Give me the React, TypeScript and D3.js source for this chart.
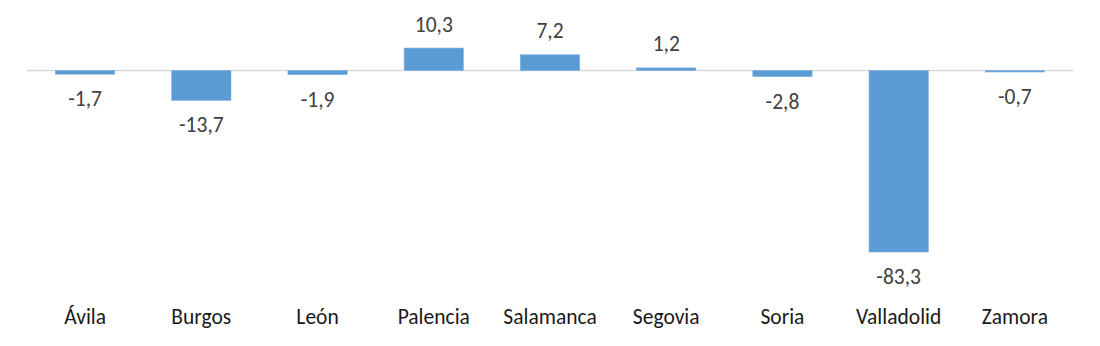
import React from "react";
import * as d3 from "d3";

const categories = ["Ávila", "Burgos", "León", "Palencia", "Salamanca", "Segovia", "Soria", "Valladolid", "Zamora"];
const values = [-1.7, -13.7, -1.9, 10.3, 7.2, 1.2, -2.8, -83.3, -0.7];
const labels = ["-1,7", "-13,7", "-1,9", "10,3", "7,2", "1,2", "-2,8", "-83,3", "-0,7"];

const W = 1100;
const H = 346;
const FONT = "Carlito, Calibri, 'Liberation Sans', Arial, sans-serif";

export default function App() {
  const x = d3.scaleBand<string>().domain(categories).range([27, 1073]).paddingInner(0.49).paddingOuter(0.245);
  const y = d3.scaleLinear().domain([-90, 20]).range([70.5 + 90 * 2.179, 70.5 - 20 * 2.179]);
  const y0 = y(0);
  return (
    <svg width={W} height={H} style={{ position: "absolute", left: 0, top: 0, background: "#fff" }}>
      <line x1={27} x2={1073} y1={y0} y2={y0} stroke="#d9d9d9" strokeWidth={1.3} />
      {categories.map((c, i) => {
        const v = values[i];
        const top = Math.min(y(v), y0);
        const h = Math.abs(y(v) - y0);
        const cx = (x(c) as number) + x.bandwidth() / 2;
        const ly = v >= 0 ? y(v) - 16.5 : y(v) + 32;
        return (
          <g key={c}>
            <rect x={x(c)} y={top} width={x.bandwidth()} height={Math.max(h, 1.5)} fill="#5b9bd5" stroke="#7fb0de" strokeWidth={0.6} />
            <text x={cx} y={ly} textAnchor="middle" fontFamily={FONT} fontSize={21.5} fill="#404040">{labels[i]}</text>
            <text x={cx} y={324} textAnchor="middle" fontFamily={FONT} fontSize={21.5} fill="#1a1a1a">{c}</text>
          </g>
        );
      })}
    </svg>
  );
}
